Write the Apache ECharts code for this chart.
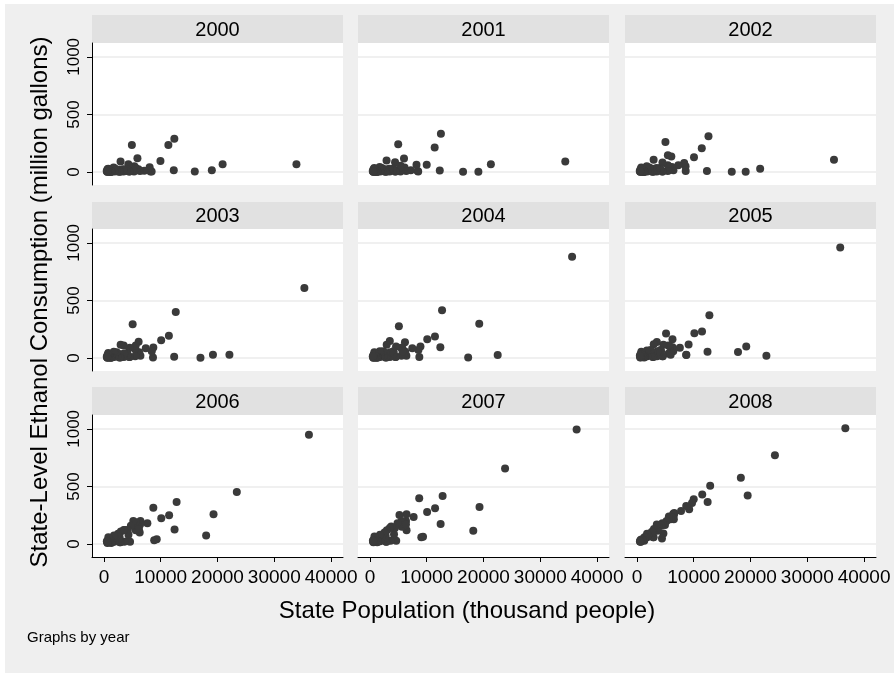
<!DOCTYPE html>
<html>
<head>
<meta charset="utf-8">
<script src="https://cdn.jsdelivr.net/npm/echarts@6/dist/echarts.min.js"></script>
<style>
html,body{margin:0;padding:0;background:#fff}
#chart{position:absolute;left:5px;top:4px;width:889px;height:669px}
</style>
</head>
<body>
<div id="chart"></div>
<script>
// state population (thousands), ethanol consumption (million gallons), one array per year
var d2000 = [[33900,69],[20900,69],[19000,17],[16000,5],[12400,290],[12300,17],[11350,235],[9950,97],[8400,6],[8200,5],[8050,43],[7100,12],[6350,10],[6080,25],[5900,121],[5690,15],[5600,35],[5360,50],[5300,5],[5130,30],[4920,235],[4470,5],[4450,5],[4300,69],[4040,25],[4010,10],[3450,5],[3420,20],[3400,25],[2930,92],[2840,3],[2690,20],[2670,3],[2230,8],[2000,30],[1820,20],[1810,5],[1710,40],[1290,5],[1270,3],[1240,5],[1210,2],[1050,3],[900,15],[780,3],[750,30],[640,15],[630,25],[610,2],[570,3],[490,10]];
var d2001 = [[34400,92],[21300,69],[19100,3],[16400,3],[12500,333],[12300,14],[11400,213],[10000,63],[8500,6],[8400,10],[8200,63],[7200,15],[6400,10],[6100,40],[6000,118],[5750,20],[5630,40],[5400,55],[5380,5],[5300,40],[4980,241],[4480,5],[4460,5],[4430,86],[4070,30],[4060,15],[3470,5],[3470,25],[3430,30],[2930,101],[2860,3],[2700,25],[2690,3],[2280,10],[2100,35],[1830,25],[1800,5],[1720,45],[1320,5],[1280,3],[1260,5],[1230,2],[1060,3],[905,15],[795,3],[760,35],[640,15],[630,25],[610,2],[575,3],[495,10]];
var d2002 = [[34700,106],[21700,29],[19150,3],[16700,3],[12600,310],[12330,9],[11420,207],[10050,129],[8590,9],[8560,50],[8320,78],[7290,60],[6430,15],[6150,45],[6060,135],[5800,20],[5670,45],[5440,60],[5440,10],[5450,147],[5020,261],[4490,5],[4480,5],[4500,83],[4090,35],[4110,20],[3490,5],[3520,30],[3460,35],[2940,106],[2870,3],[2710,30],[2710,3],[2320,10],[2170,40],[1860,30],[1800,5],[1730,50],[1340,5],[1290,3],[1270,5],[1240,2],[1070,3],[910,15],[805,3],[760,40],[635,15],[640,25],[615,2],[575,3],[500,10]];
var d2003 = [[35300,609],[22100,28],[19200,28],[17000,3],[12650,400],[12370,12],[11440,193],[10080,155],[8640,6],[8700,92],[8420,60],[7370,86],[6430,20],[6200,50],[6110,141],[5850,30],[5710,60],[5480,80],[5510,15],[5600,110],[5060,293],[4500,10],[4500,10],[4550,90],[4110,45],[4150,30],[3510,10],[3560,40],[3480,110],[2940,115],[2880,5],[2720,35],[2730,5],[2360,15],[2240,50],[1880,35],[1810,10],[1740,55],[1370,8],[1300,5],[1290,8],[1250,3],[1080,5],[915,20],[815,5],[765,45],[635,20],[650,30],[620,3],[570,5],[500,12]];
var d2004 = [[35600,879],[22500,26],[19250,299],[17300,6],[12700,414],[12400,95],[11450,187],[10100,164],[8700,9],[8900,101],[8540,70],[7460,86],[6420,20],[6230,55],[6170,138],[5900,35],[5750,80],[5510,90],[5550,20],[5760,60],[5100,276],[4510,10],[4530,10],[4600,100],[4140,60],[4200,40],[3520,10],[3590,50],[3500,149],[2950,115],[2890,5],[2730,45],[2750,5],[2420,20],[2330,60],[1900,40],[1810,10],[1750,60],[1390,10],[1310,5],[1300,10],[1260,3],[1080,5],[925,25],[830,5],[770,50],[635,20],[660,30],[620,3],[570,5],[505,15]];
var d2005 = [[35800,960],[22800,20],[19250,101],[17800,52],[12760,371],[12430,55],[11460,230],[10120,216],[8700,26],[9100,118],[8680,30],[7560,90],[6400,60],[6270,95],[6260,164],[5960,50],[5800,100],[5530,110],[5580,40],[5940,30],[5130,213],[4520,15],[4550,15],[4660,115],[4170,70],[4250,60],[3540,15],[3630,60],[3510,140],[2960,120],[2900,10],[2750,50],[2780,10],[2490,25],[2410,70],[1930,45],[1820,15],[1760,65],[1430,15],[1320,10],[1310,15],[1270,5],[1080,10],[935,30],[840,10],[775,55],[635,25],[665,35],[620,5],[570,8],[510,20]];
var d2006 = [[36100,948],[23400,453],[19300,259],[18000,75],[12800,365],[12440,127],[11480,250],[10100,224],[8700,316],[9300,43],[8850,34],[7650,181],[6430,201],[6300,101],[6370,170],[6040,150],[5850,158],[5560,190],[5600,120],[6170,130],[5170,201],[4300,30],[4600,20],[4750,160],[4210,123],[4320,80],[3580,20],[3690,123],[3500,123],[2980,110],[2900,15],[2760,60],[2810,15],[2580,40],[2490,90],[1960,50],[1820,20],[1770,75],[1470,20],[1320,15],[1310,20],[1280,10],[1070,20],[945,35],[855,20],[780,60],[640,30],[675,15],[620,10],[580,15],[515,25]];
var d2007 = [[36400,994],[23800,655],[19300,322],[18200,115],[12800,417],[12450,175],[11470,310],[10070,279],[8680,397],[9350,63],[9050,60],[7700,236],[6450,259],[6350,201],[6450,121],[6150,160],[5880,190],[5600,200],[5620,150],[6340,170],[5200,253],[4300,40],[4630,30],[4860,180],[4240,86],[4400,140],[3620,30],[3750,152],[3500,140],[2990,120],[2920,20],[2780,70],[2830,20],[2640,50],[2570,100],[1990,60],[1810,25],[1780,80],[1500,25],[1320,20],[1320,30],[1280,15],[1060,40],[955,40],[865,30],[795,65],[640,35],[680,20],[620,15],[590,20],[520,30]];
var d2008 = [[36700,1006],[24300,770],[18300,575],[19500,422],[12900,506],[12450,365],[11500,431],[10000,388],[9700,356],[9200,302],[8680,330],[7770,287],[6500,250],[6560,270],[6380,260],[6500,216],[6210,230],[5910,215],[5630,240],[5630,220],[5220,200],[4940,165],[4660,92],[4410,49],[4480,180],[4270,160],[3790,150],[3640,115],[3500,170],[3000,130],[2940,60],[2860,60],[2800,110],[2730,100],[2600,105],[1980,72],[1810,60],[1780,90],[1520,60],[1320,45],[1320,60],[1290,30],[1050,40],[965,40],[875,35],[800,40],[690,20],[640,35],[620,25],[590,20],[530,25]];

var years = ['2000','2001','2002','2003','2004','2005','2006','2007','2008'];
var panels = [d2000,d2001,d2002,d2003,d2004,d2005,d2006,d2007,d2008];
var xTicks = [0,10000,20000,30000,40000];
var yTicks = [0,500,1000];

var OX = 5, OY = 4;  // chart div offset on the page
var colLeft = [92, 358, 625];
var rowTop = [43, 229, 415];
var headTop = [15, 202, 387];
var plotW = 251, plotH = 142;

var font = '"Liberation Sans", Arial, sans-serif';

function plainNum(v) {
	return String(v);
}

function buildChart() {
	var grids = [], xAxes = [], yAxes = [], series = [], gfx = [];

	for (var i=0;i<panels.length;i++) {
		var col = i % 3;
		var row = Math.floor(i / 3);
		var gLeft = colLeft[col] - OX;
		var gTop = rowTop[row] - OY;

		grids.push({
			left: gLeft, top: gTop, width: plotW, height: plotH,
			show: true, backgroundColor: '#fff', borderWidth: 0
		});

		xAxes.push({
			gridIndex: i, type: 'value', min: -2100, max: 42100,
			axisLine: {show: row==2, onZero: false, lineStyle: {color:'#000', width:1}},
			axisTick: {show: row==2, length: 5, customValues: xTicks, lineStyle: {color:'#000'}},
			axisLabel: {show: row==2, customValues: xTicks, formatter: plainNum, hideOverlap: false,
				fontSize: 19, color:'#000', margin: 11, fontFamily: font},
			splitLine: {show: false}
		});

		yAxes.push({
			gridIndex: i, type: 'value', min: -112, max: 1120,
			axisLine: {show: col==0, onZero: false, lineStyle: {color:'#000', width:1}},
			axisTick: {show: col==0, length: 5, customValues: yTicks, lineStyle: {color:'#000'}},
			axisLabel: {show: col==0, customValues: yTicks, formatter: plainNum, rotate: 90,
				fontSize: 17, color:'#000', margin: 9, fontFamily: font},
			splitLine: {show: true, lineStyle: {color:'#ebebeb', width: 1.5}}
		});

		series.push({
			type: 'scatter', xAxisIndex: i, yAxisIndex: i,
			data: panels[i], symbol: 'circle', symbolSize: 8,
			itemStyle: {color: '#3a3a3a', opacity: 1},
			silent: true
		});

		// panel header strip
		gfx.push({
			type: 'rect',
			shape: {x: gLeft, y: headTop[row] - OY, width: plotW, height: rowTop[row] - headTop[row]},
			style: {fill: '#e1e1e1'}
		});
		gfx.push({
			type: 'text',
			x: gLeft + plotW/2, y: (headTop[row] + rowTop[row])/2 - OY + 1,
			style: {text: years[i], fill: '#000', font: '20px ' + font, align: 'center', verticalAlign: 'middle'}
		});
	}

	gfx.push({
		type: 'text', x: 40 - OX, y: 302 - OY, rotation: Math.PI/2,
		style: {text: 'State-Level Ethanol Consumption (million gallons)', fill: '#000', font: '24px ' + font, align: 'center', verticalAlign: 'middle'}
	});
	gfx.push({
		type: 'text', x: 467 - OX, y: 611 - OY,
		style: {text: 'State Population (thousand people)', fill: '#000', font: '24px ' + font, align: 'center', verticalAlign: 'middle'}
	});
	gfx.push({
		type: 'text', x: 27 - OX, y: 638 - OY,
		style: {text: 'Graphs by year', fill: '#000', font: '15px ' + font, align: 'left', verticalAlign: 'middle'}
	});

	var myChart = echarts.init(document.getElementById('chart'));
	var option = {
		backgroundColor: '#efefef',
		animation: false,
		grid: grids,
		xAxis: xAxes,
		yAxis: yAxes,
		series: series,
		graphic: {elements: gfx}
	};
	myChart.setOption(option);
}

buildChart();
</script>
</body>
</html>
